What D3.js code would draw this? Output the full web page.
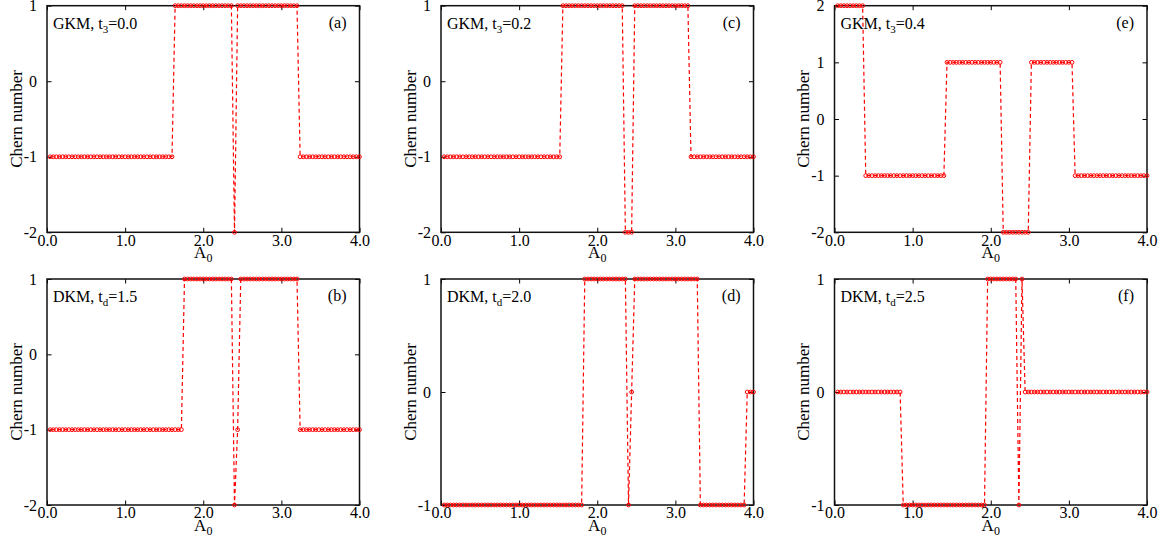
<!DOCTYPE html>
<html>
<head>
<meta charset="utf-8">
<script src="https://cdn.jsdelivr.net/npm/d3@7"></script>
<style>
  body { margin: 0; background: #fff; }
  text { font-family: "Liberation Serif", "Times New Roman", serif; }
</style>
</head>
<body>
<svg id="chart" width="1167" height="545"></svg>
<script>
// A0 grid (step 0.04)
const A0 = [
  0.04,0.08,0.12,0.16,0.20,0.24,0.28,0.32,0.36,0.40,
  0.44,0.48,0.52,0.56,0.60,0.64,0.68,0.72,0.76,0.80,
  0.84,0.88,0.92,0.96,1.00,1.04,1.08,1.12,1.16,1.20,
  1.24,1.28,1.32,1.36,1.40,1.44,1.48,1.52,1.56,1.60,
  1.64,1.68,1.72,1.76,1.80,1.84,1.88,1.92,1.96,2.00,
  2.04,2.08,2.12,2.16,2.20,2.24,2.28,2.32,2.36,2.40,
  2.44,2.48,2.52,2.56,2.60,2.64,2.68,2.72,2.76,2.80,
  2.84,2.88,2.92,2.96,3.00,3.04,3.08,3.12,3.16,3.20,
  3.24,3.28,3.32,3.36,3.40,3.44,3.48,3.52,3.56,3.60,
  3.64,3.68,3.72,3.76,3.80,3.84,3.88,3.92,3.96,4.00
];

// Chern numbers, one value per A0 point
const chernA = [
  -1,-1,-1,-1,-1,-1,-1,-1,-1,-1,-1,-1,-1,-1,-1,-1,-1,-1,-1,-1,
  -1,-1,-1,-1,-1,-1,-1,-1,-1,-1,-1,-1,-1,-1,-1,-1,-1,-1,-1,-1,
  1,1,1,1,1,1,1,1,1,1,1,1,1,1,1,1,1,1,1,-2,
  1,1,1,1,1,1,1,1,1,1,1,1,1,1,1,1,1,1,1,1,
  -1,-1,-1,-1,-1,-1,-1,-1,-1,-1,-1,-1,-1,-1,-1,-1,-1,-1,-1,-1
];
const chernC = [
  -1,-1,-1,-1,-1,-1,-1,-1,-1,-1,-1,-1,-1,-1,-1,-1,-1,-1,-1,-1,
  -1,-1,-1,-1,-1,-1,-1,-1,-1,-1,-1,-1,-1,-1,-1,-1,-1,-1,1,1,
  1,1,1,1,1,1,1,1,1,1,1,1,1,1,1,1,1,1,-2,-2,
  -2,1,1,1,1,1,1,1,1,1,1,1,1,1,1,1,1,1,1,-1,
  -1,-1,-1,-1,-1,-1,-1,-1,-1,-1,-1,-1,-1,-1,-1,-1,-1,-1,-1,-1
];
const chernE = [
  2,2,2,2,2,2,2,2,2,-1,-1,-1,-1,-1,-1,-1,-1,-1,-1,-1,
  -1,-1,-1,-1,-1,-1,-1,-1,-1,-1,-1,-1,-1,-1,-1,1,1,1,1,1,
  1,1,1,1,1,1,1,1,1,1,1,1,1,-2,-2,-2,-2,-2,-2,-2,
  -2,-2,1,1,1,1,1,1,1,1,1,1,1,1,1,1,-1,-1,-1,-1,
  -1,-1,-1,-1,-1,-1,-1,-1,-1,-1,-1,-1,-1,-1,-1,-1,-1,-1,-1,-1
];
const chernB = [
  -1,-1,-1,-1,-1,-1,-1,-1,-1,-1,-1,-1,-1,-1,-1,-1,-1,-1,-1,-1,
  -1,-1,-1,-1,-1,-1,-1,-1,-1,-1,-1,-1,-1,-1,-1,-1,-1,-1,-1,-1,
  -1,-1,-1,1,1,1,1,1,1,1,1,1,1,1,1,1,1,1,1,-2,
  -1,1,1,1,1,1,1,1,1,1,1,1,1,1,1,1,1,1,1,1,
  -1,-1,-1,-1,-1,-1,-1,-1,-1,-1,-1,-1,-1,-1,-1,-1,-1,-1,-1,-1
];
const chernD = [
  -1,-1,-1,-1,-1,-1,-1,-1,-1,-1,-1,-1,-1,-1,-1,-1,-1,-1,-1,-1,
  -1,-1,-1,-1,-1,-1,-1,-1,-1,-1,-1,-1,-1,-1,-1,-1,-1,-1,-1,-1,
  -1,-1,-1,-1,-1,1,1,1,1,1,1,1,1,1,1,1,1,1,1,-1,
  0,1,1,1,1,1,1,1,1,1,1,1,1,1,1,1,1,1,1,1,
  1,1,-1,-1,-1,-1,-1,-1,-1,-1,-1,-1,-1,-1,-1,-1,-1,0,0,0
];
const chernF = [
  0,0,0,0,0,0,0,0,0,0,0,0,0,0,0,0,0,0,0,0,
  0,-1,-1,-1,-1,-1,-1,-1,-1,-1,-1,-1,-1,-1,-1,-1,-1,-1,-1,-1,
  -1,-1,-1,-1,-1,-1,-1,-1,1,1,1,1,1,1,1,1,1,1,-1,1,
  0,0,0,0,0,0,0,0,0,0,0,0,0,0,0,0,0,0,0,0,
  0,0,0,0,0,0,0,0,0,0,0,0,0,0,0,0,0,0,0,0
];

// tick labels
const xTicks = [0, 1, 2, 3, 4];
const yTicks3 = [-2, -1, 0, 1];
const yTicks4 = [-2, -1, 0, 1, 2];
const yTicks2 = [-1, 0, 1];

// panel titles
const panelTags = ["(a)", "(c)", "(e)", "(b)", "(d)", "(f)"];
const models = ["GKM", "GKM", "GKM", "DKM", "DKM", "DKM"];
const subs = ["3", "3", "3", "d", "d", "d"];
const params = ["0.0", "0.2", "0.4", "1.5", "2.0", "2.5"];

const series = [chernA, chernC, chernE, chernB, chernD, chernF];
const yTickSets = [yTicks3, yTicks3, yTicks4, yTicks3, yTicks2, yTicks2];

// layout
const colX = [47, 441, 834.5];
const rowY = [5.7, 279];
const W = 312.5;
const H = [226.6, 226];
const fontFam = '"Liberation Serif", "Times New Roman", serif';

const svg = d3.select("#chart");

series.forEach((vals, i) => {
  const col = i % 3, row = Math.floor(i / 3);
  const h = H[row];
  const ticksY = yTickSets[i];
  const g = svg.append("g")
    .attr("transform", "translate(" + colX[col] + "," + rowY[row] + ")");

  const x = d3.scaleLinear().domain([0, 4]).range([0, W]);
  const y = d3.scaleLinear().domain(d3.extent(ticksY)).range([h, 0]);

  // axes, ticks pointing inward on all sides
  const styleAxis = sel => {
    sel.select(".domain").remove();
    sel.attr("font-family", fontFam).attr("font-size", 16);
    sel.selectAll(".tick line").attr("stroke", "#000").attr("stroke-width", 1);
    sel.selectAll(".tick text").attr("fill", "#000");
  };

  g.append("g")
    .attr("transform", "translate(0," + h + ")")
    .call(d3.axisBottom(x).tickValues(xTicks).tickFormat(d3.format(".1f"))
      .tickSizeInner(-4.5).tickSizeOuter(0).tickPadding(2))
    .call(styleAxis);
  g.append("g")
    .call(d3.axisTop(x).tickValues(xTicks).tickFormat("")
      .tickSizeInner(-4.5).tickSizeOuter(0))
    .call(styleAxis);
  g.append("g")
    .call(d3.axisLeft(y).tickValues(ticksY).tickFormat(d => String(d))
      .tickSizeInner(-4.5).tickSizeOuter(0).tickPadding(10))
    .call(styleAxis);
  g.append("g")
    .attr("transform", "translate(" + W + ",0)")
    .call(d3.axisRight(y).tickValues(ticksY).tickFormat("")
      .tickSizeInner(-4.5).tickSizeOuter(0))
    .call(styleAxis);

  // frame
  g.append("rect")
    .attr("width", W).attr("height", h)
    .attr("fill", "none").attr("stroke", "#111").attr("stroke-width", 1.5);

  // data
  const pts = A0.map((a, k) => [a, vals[k]]);
  const line = d3.line().x(d => x(d[0])).y(d => y(d[1]));
  g.append("path")
    .datum(pts)
    .attr("d", line)
    .attr("fill", "none")
    .attr("stroke", "#ff0000")
    .attr("stroke-width", 1.2)
    .attr("stroke-dasharray", "4,3");
  g.selectAll("circle.pt")
    .data(pts)
    .enter()
    .append("circle")
    .attr("class", "pt")
    .attr("cx", d => x(d[0]))
    .attr("cy", d => y(d[1]))
    .attr("r", 1.9)
    .attr("fill", "none")
    .attr("stroke", "#ff0000")
    .attr("stroke-width", 1);

  // labels
  const title = g.append("text")
    .attr("x", 6).attr("y", 23)
    .attr("font-size", 16).attr("fill", "#000");
  title.append("tspan").text(models[i] + ", t");
  title.append("tspan").attr("font-size", 11).attr("dy", 4).text(subs[i]);
  title.append("tspan").attr("font-size", 16).attr("dy", -4).text("=" + params[i]);

  g.append("text")
    .attr("x", W - 13).attr("y", 22)
    .attr("text-anchor", "end")
    .attr("font-size", 16).attr("fill", "#000")
    .text(panelTags[i]);

  g.append("text")
    .attr("transform", "translate(-25.5," + (h / 2) + ") rotate(-90)")
    .attr("text-anchor", "middle")
    .attr("font-size", 17).attr("fill", "#000")
    .text("Chern number");

  const xl = g.append("text")
    .attr("x", W / 2).attr("y", h + 25.5)
    .attr("text-anchor", "middle")
    .attr("font-size", 17).attr("fill", "#000");
  xl.append("tspan").text("A");
  xl.append("tspan").attr("font-size", 12).attr("dy", 4).text("0");
});
</script>
</body>
</html>
